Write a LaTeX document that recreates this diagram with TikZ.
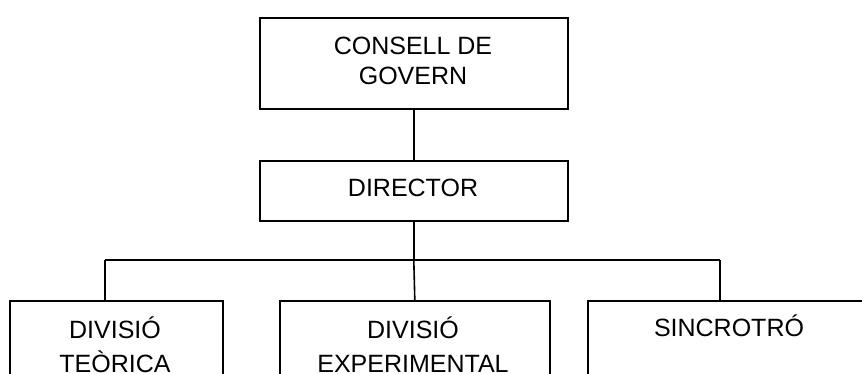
\documentclass[tikz,border=0pt]{standalone}
\usepackage{fontspec}
\setmainfont{Liberation Sans}
\begin{document}
\begin{tikzpicture}[x=1pt,y=-1pt,line width=1.6pt,
  orgbox/.style={draw=black,rectangle,inner sep=0pt,anchor=north west,line width=1.6pt},
  lbl/.style={anchor=base,inner sep=0pt,font=\fontsize{25}{30}\selectfont},
  conn/.style={draw=black,line width=1.6pt}]
\useasboundingbox (0,0) rectangle (862,374);
\clip (0,0) rectangle (862,374);
\fill[white] (0,0) rectangle (862,374);
% boxes
\node[orgbox,minimum width=308pt,minimum height=91pt] (top) at (259,17) {};
\node[orgbox,minimum width=308pt,minimum height=60pt] (dir) at (259,160) {};
\node[orgbox,minimum width=213pt,minimum height=120pt] (left) at (9,300) {};
\node[orgbox,minimum width=270pt,minimum height=120pt] (mid) at (279,300) {};
\node[orgbox,minimum width=285pt,minimum height=120pt] (right) at (587,300) {};
% texts
\node[lbl] (t1) at (413,55) {CONSELL DE};
\node[lbl] (t2) at (413,85) {GOVERN};
\node[lbl] (t3) at (413,197) {DIRECTOR};
\node[lbl] (t4) at (115,338) {DIVISIÓ};
\node[lbl] (t5) at (115,372) {TEÒRICA};
\node[lbl] (t6) at (413,338) {DIVISIÓ};
\node[lbl] (t7) at (413,372) {EXPERIMENTAL};
\node[lbl] (t8) at (729,336) {SINCROTRÓ};
% connectors
\coordinate (hl) at (105,260);
\coordinate (hr) at (720,260);
\coordinate (hm) at (dir.south |- hl);
\draw[conn] (top.south) -- (dir.north);
\draw[conn] (dir.south) -- (hm);
\draw[conn] (hl) -- (hr);
\draw[conn] (hl) -- (hl |- left.north);
\draw[conn] (hm) -- (mid.north);
\draw[conn] (hr) -- (hr |- right.north);
\end{tikzpicture}
\end{document}
